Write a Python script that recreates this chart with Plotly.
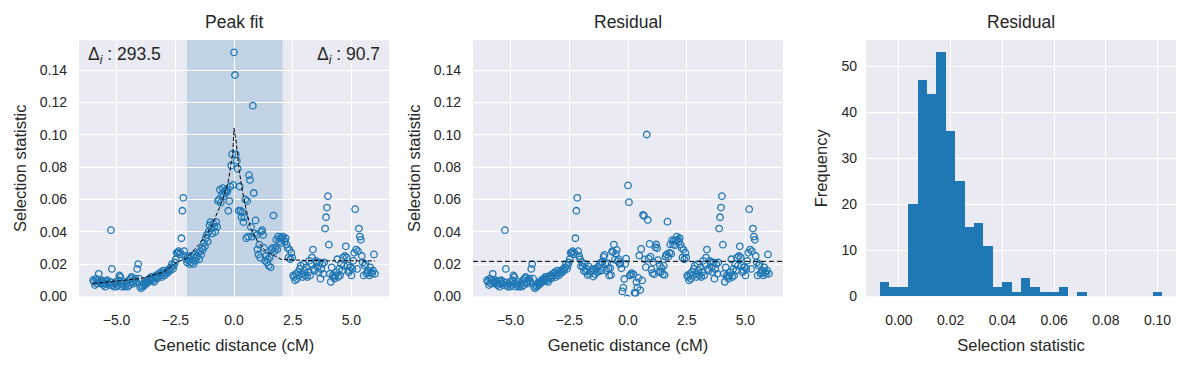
import plotly.graph_objects as go
import numpy as np

# ---------------- data ----------------
GEN_DIST = [
    -6.00, -5.96, -5.92, -5.88, -5.84, -5.80, -5.76, -5.72, -5.68, -5.64,
    -5.60, -5.56, -5.52, -5.48, -5.44, -5.40, -5.36, -5.32, -5.28, -5.24,
    -5.20, -5.16, -5.12, -5.08, -5.04, -5.00, -4.96, -4.92, -4.88, -4.84,
    -4.80, -4.76, -4.72, -4.68, -4.64, -4.60, -4.56, -4.52, -4.48, -4.44,
    -4.40, -4.36, -4.32, -4.28, -4.24, -4.20, -4.16, -4.12, -4.08, -4.04,
    -4.00, -3.96, -3.92, -3.88, -3.84, -3.80, -3.76, -3.72, -3.68, -3.64,
    -3.60, -3.56, -3.52, -3.48, -3.44, -3.40, -3.36, -3.32, -3.28, -3.24,
    -3.20, -3.16, -3.12, -3.08, -3.04, -3.00, -2.96, -2.92, -2.88, -2.84,
    -2.80, -2.76, -2.72, -2.68, -2.64, -2.60, -2.56, -2.52, -2.48, -2.44,
    -2.40, -2.36, -2.32, -2.28, -2.24, -2.20, -2.16, -2.12, -2.08, -2.04,
    -2.00, -1.96, -1.92, -1.88, -1.84, -1.80, -1.76, -1.72, -1.68, -1.64,
    -1.60, -1.56, -1.52, -1.48, -1.44, -1.40, -1.36, -1.32, -1.28, -1.24,
    -1.20, -1.16, -1.12, -1.08, -1.04, -1.00, -0.96, -0.92, -0.88, -0.84,
    -0.80, -0.76, -0.72, -0.68, -0.64, -0.60, -0.56, -0.52, -0.48, -0.44,
    -0.40, -0.36, -0.32, -0.28, -0.24, -0.20, -0.16, -0.12, -0.08, -0.04,
    0.00, 0.04, 0.08, 0.12, 0.16, 0.20, 0.24, 0.28, 0.32, 0.36,
    0.40, 0.44, 0.48, 0.52, 0.56, 0.60, 0.64, 0.68, 0.72, 0.76,
    0.80, 0.84, 0.88, 0.92, 0.96, 1.00, 1.04, 1.08, 1.12, 1.16,
    1.20, 1.24, 1.28, 1.32, 1.36, 1.40, 1.44, 1.48, 1.52, 1.56,
    1.60, 1.64, 1.68, 1.72, 1.76, 1.80, 1.84, 1.88, 1.92, 1.96,
    2.00, 2.04, 2.08, 2.12, 2.16, 2.20, 2.24, 2.28, 2.32, 2.36,
    2.40, 2.44, 2.48, 2.52, 2.56, 2.60, 2.64, 2.68, 2.72, 2.76,
    2.80, 2.84, 2.88, 2.92, 2.96, 3.00, 3.04, 3.08, 3.12, 3.16,
    3.20, 3.24, 3.28, 3.32, 3.36, 3.40, 3.44, 3.48, 3.52, 3.56,
    3.60, 3.64, 3.68, 3.72, 3.76, 3.80, 3.84, 3.88, 3.92, 3.96,
    4.00, 4.04, 4.08, 4.12, 4.16, 4.20, 4.24, 4.28, 4.32, 4.36,
    4.40, 4.44, 4.48, 4.52, 4.56, 4.60, 4.64, 4.68, 4.72, 4.76,
    4.80, 4.84, 4.88, 4.92, 4.96, 5.00, 5.04, 5.08, 5.12, 5.16,
    5.20, 5.24, 5.28, 5.32, 5.36, 5.40, 5.44, 5.48, 5.52, 5.56,
    5.60, 5.64, 5.68, 5.72, 5.76, 5.80, 5.84, 5.88, 5.92, 5.96,
    6.00,
]

SELECTION_STAT = [
    0.010, 0.009, 0.007, 0.011, 0.008, 0.010, 0.014, 0.009, 0.008, 0.010,
    0.009, 0.007, 0.008, 0.006, 0.009, 0.010, 0.008, 0.007, 0.009, 0.041,
    0.017, 0.007, 0.006, 0.008, 0.009, 0.006, 0.007, 0.010, 0.013, 0.012,
    0.008, 0.006, 0.007, 0.009, 0.006, 0.007, 0.008, 0.006, 0.010, 0.007,
    0.011, 0.012, 0.009, 0.008, 0.010, 0.011, 0.009, 0.017, 0.020, 0.011,
    0.006, 0.005, 0.007, 0.006, 0.008, 0.007, 0.009, 0.008, 0.010, 0.009,
    0.011, 0.010, 0.012, 0.011, 0.010, 0.009, 0.012, 0.013, 0.011, 0.012,
    0.014, 0.013, 0.015, 0.012, 0.014, 0.016, 0.013, 0.015, 0.014, 0.016,
    0.015, 0.017, 0.016, 0.018, 0.020, 0.017, 0.019, 0.021, 0.023, 0.027,
    0.027, 0.028, 0.026, 0.027, 0.036, 0.053, 0.061, 0.028, 0.025, 0.023,
    0.021, 0.024, 0.022, 0.020, 0.025, 0.021, 0.023, 0.020, 0.026, 0.022,
    0.024, 0.025, 0.027, 0.023, 0.028, 0.026, 0.030, 0.029, 0.033, 0.031,
    0.036, 0.038, 0.034, 0.040, 0.044, 0.046, 0.042, 0.039, 0.045, 0.043,
    0.040, 0.046, 0.043, 0.059, 0.060, 0.066, 0.058, 0.063, 0.067, 0.062,
    0.065, 0.064, 0.066, 0.065, 0.053, 0.059, 0.068, 0.081, 0.088, 0.069,
    0.151, 0.137, 0.088, 0.084, 0.079, 0.053, 0.068, 0.053, 0.049, 0.052,
    0.046, 0.049, 0.060, 0.036, 0.059, 0.037, 0.075, 0.072, 0.043, 0.037,
    0.118, 0.064, 0.039, 0.047, 0.038, 0.029, 0.026, 0.032, 0.024, 0.040,
    0.041, 0.038, 0.030, 0.022, 0.025, 0.021, 0.023, 0.019, 0.024, 0.018,
    0.029, 0.030, 0.050, 0.028, 0.030, 0.035, 0.029, 0.037, 0.034, 0.036,
    0.033, 0.036, 0.037, 0.035, 0.034, 0.036, 0.032, 0.030, 0.024, 0.029,
    0.023, 0.027, 0.024, 0.013, 0.012, 0.010, 0.014, 0.011, 0.015, 0.013,
    0.017, 0.019, 0.014, 0.012, 0.020, 0.016, 0.013, 0.018, 0.012, 0.015,
    0.022, 0.013, 0.020, 0.024, 0.029, 0.017, 0.016, 0.022, 0.021, 0.018,
    0.015, 0.021, 0.011, 0.017, 0.020, 0.014, 0.021, 0.042, 0.049, 0.055,
    0.062, 0.032, 0.014, 0.009, 0.018, 0.013, 0.012, 0.011, 0.013, 0.015,
    0.023, 0.012, 0.017, 0.013, 0.020, 0.016, 0.024, 0.019, 0.025, 0.031,
    0.024, 0.019, 0.015, 0.016, 0.018, 0.013, 0.017, 0.022, 0.027, 0.054,
    0.029, 0.017, 0.028, 0.042, 0.037, 0.035, 0.025, 0.021, 0.013, 0.019,
    0.020, 0.014, 0.015, 0.016, 0.013, 0.018, 0.015, 0.014, 0.016, 0.026,
    0.014,
]

# fitted peak curve
FIT_X = [-6.0, -5.0, -4.0, -3.0, -2.5, -2.0, -1.5, -1.0, -0.5, -0.25, -0.05,
         0.0, 0.1, 0.21, 0.36, 0.5, 0.71, 1.0, 1.35, 2.0, 2.5, 3.0, 4.0, 5.0, 6.0]
FIT_Y = [0.008, 0.0095, 0.011, 0.015, 0.0205, 0.024, 0.032, 0.042, 0.059, 0.0707, 0.089,
         0.104, 0.095, 0.079, 0.065, 0.055, 0.042, 0.034, 0.028, 0.023, 0.0226, 0.0223,
         0.022, 0.022, 0.022]

PEAK_WINDOW = [-2.0, 2.07]
BASELINE = 0.0217
DELTA_LEFT = "293.5"
DELTA_RIGHT = "90.7"

# residual histogram (counts)
HIST_COUNTS = [3, 2, 2, 20, 47, 44, 53, 36, 25, 15, 16, 11, 2, 3, 1, 4, 2, 1, 1, 2,
               0, 1, 0, 0, 0, 0, 0, 0, 0, 1]
HIST_MIN = -0.0073
HIST_MAX = 0.1017

# ---------------- derived ----------------
x = np.array(GEN_DIST)
y = np.array(SELECTION_STAT)
fit_at_x = np.interp(x, FIT_X, FIT_Y)
in_win = (x >= PEAK_WINDOW[0]) & (x <= PEAK_WINDOW[1])
residual = np.where(in_win, y - fit_at_x + BASELINE, y)

nb = len(HIST_COUNTS)
bw = (HIST_MAX - HIST_MIN) / nb
edges = HIST_MIN + bw * np.arange(nb + 1)
centers = (edges[:-1] + edges[1:]) / 2

# ---------------- style ----------------
W, H = 1191, 368
FONT = "Liberation Sans, Arial, sans-serif"
TXT = "#262626"
BLUE = "#1f77b4"
BG = "#EAEAF2"

ydom = [65 / H, 327 / H]
xdoms = [[79 / W, 389 / W], [473 / W, 783 / W], [866 / W, 1176 / W]]

xr = [-6.6, 6.6]
yr = [0, 0.1586]

fig = go.Figure()

marker = dict(symbol="circle-open", size=6.5, color=BLUE, line=dict(width=1.3, color=BLUE))

# panel 1
fig.add_trace(go.Scatter(x=x, y=y, mode="markers", marker=marker, xaxis="x", yaxis="y",
                         showlegend=False, hoverinfo="skip"))
fig.add_trace(go.Scatter(x=FIT_X, y=FIT_Y, mode="lines", xaxis="x", yaxis="y",
                         line=dict(color="black", width=1, dash="4px,2px"),
                         showlegend=False, hoverinfo="skip"))
# panel 2
fig.add_trace(go.Scatter(x=x, y=residual, mode="markers", marker=marker, xaxis="x2", yaxis="y2",
                         showlegend=False, hoverinfo="skip"))
fig.add_trace(go.Scatter(x=xr, y=[BASELINE, BASELINE], mode="lines", xaxis="x2", yaxis="y2",
                         line=dict(color="black", width=1, dash="5px,3px"),
                         showlegend=False, hoverinfo="skip"))
# panel 3
fig.add_trace(go.Bar(x=centers, y=HIST_COUNTS, width=bw, marker=dict(color=BLUE, line=dict(width=0)),
                     xaxis="x3", yaxis="y3", showlegend=False, hoverinfo="skip"))

# shaded peak window
fig.add_shape(type="rect", xref="x", yref="y", x0=PEAK_WINDOW[0], x1=PEAK_WINDOW[1],
              y0=yr[0], y1=yr[1], fillcolor="#C3D3E6", line=dict(width=0), layer="below")

axis_common = dict(showgrid=True, gridcolor="white", gridwidth=1.3, zeroline=False, showline=False,
                   ticks="", tickfont=dict(family=FONT, size=14, color=TXT))
title_font = dict(family=FONT, size=16.5, color=TXT)

fig.update_layout(
    width=W, height=H, margin=dict(l=0, r=0, t=0, b=0),
    paper_bgcolor="white", plot_bgcolor=BG, bargap=0,
    font=dict(family=FONT, color=TXT),
    xaxis=dict(domain=xdoms[0], anchor="y", range=xr, tick0=0, dtick=2.5, tickformat=".1f",
               ticklabelstandoff=14,
               title=dict(text="Genetic distance (cM)", font=title_font, standoff=12), **axis_common),
    yaxis=dict(domain=ydom, anchor="x", range=yr, tick0=0, dtick=0.02, tickformat=".2f",
               ticklabelstandoff=11,
               title=dict(text="Selection statistic", font=title_font, standoff=8), **axis_common),
    xaxis2=dict(domain=xdoms[1], anchor="y2", range=xr, tick0=0, dtick=2.5, tickformat=".1f",
                ticklabelstandoff=14,
                title=dict(text="Genetic distance (cM)", font=title_font, standoff=12), **axis_common),
    yaxis2=dict(domain=ydom, anchor="x2", range=yr, tick0=0, dtick=0.02, tickformat=".2f",
                ticklabelstandoff=11,
                title=dict(text="Selection statistic", font=title_font, standoff=8), **axis_common),
    xaxis3=dict(domain=xdoms[2], anchor="y3", range=[-0.01275, 0.10715], tick0=0, dtick=0.02,
                tickformat=".2f", ticklabelstandoff=14,
                title=dict(text="Selection statistic", font=title_font, standoff=12), **axis_common),
    yaxis3=dict(domain=ydom, anchor="x3", range=[0, 55.65], tick0=0, dtick=10,
                ticklabelstandoff=8,
                title=dict(text="Frequency", font=title_font, standoff=9), **axis_common),
)

titles = ["Peak fit", "Residual", "Residual"]
for i, t in enumerate(titles):
    d = xdoms[i]
    fig.add_annotation(text=t, x=(d[0] + d[1]) / 2, y=(H - 22.7) / H, xref="paper", yref="paper",
                       xanchor="center", yanchor="middle", showarrow=False,
                       font=dict(family=FONT, size=17.5, color=TXT))

fig.add_annotation(text="Δ<sub><i>i</i></sub> : " + DELTA_LEFT, xref="x domain", yref="y domain",
                   x=0.022, y=0.94, xanchor="left", yanchor="middle", showarrow=False,
                   font=dict(family=FONT, size=17.5, color=TXT))
fig.add_annotation(text="Δ<sub><i>i</i></sub> : " + DELTA_RIGHT, xref="x domain", yref="y domain",
                   x=0.976, y=0.94, xanchor="right", yanchor="middle", showarrow=False,
                   font=dict(family=FONT, size=17.5, color=TXT))

fig.write_html("out.html", config={"displayModeBar": False},
               post_script="document.body.style.margin='0';")
